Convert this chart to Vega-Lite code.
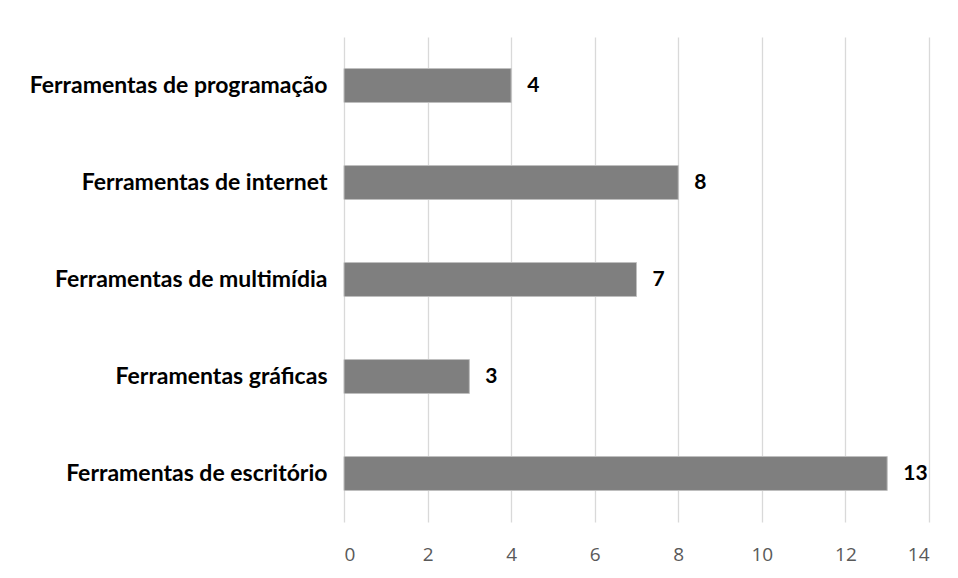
{
  "$schema": "https://vega.github.io/schema/vega-lite/v6.json",
  "width": 585,
  "height": 485,
  "autosize": {"type": "none"},
  "padding": {"left": 344, "top": 37, "right": 29, "bottom": 56},
  "background": "#ffffff",
  "config": {"view": {"stroke": null}},
  "data": {"values": [
    {"categoria": "Ferramentas de programação", "valor": 4},
    {"categoria": "Ferramentas de internet", "valor": 8},
    {"categoria": "Ferramentas de multimídia", "valor": 7},
    {"categoria": "Ferramentas gráficas", "valor": 3},
    {"categoria": "Ferramentas de escritório", "valor": 13}
  ]},
  "encoding": {
    "y": {
      "field": "categoria", "type": "nominal", "sort": null,
      "scale": {"paddingInner": 0.65, "paddingOuter": 0.325},
      "axis": {"title": null, "domain": false, "ticks": false, "grid": false,
        "labelFont": "Lato", "labelFontWeight": "bold", "labelFontSize": 23,
        "labelColor": "#000000", "labelPadding": 17, "labelLimit": 400}
    },
    "x": {
      "field": "valor", "type": "quantitative",
      "scale": {"domain": [0, 14], "nice": false},
      "axis": {"title": null, "values": [0, 2, 4, 6, 8, 10, 12, 14], "domain": false, "ticks": false,
        "grid": true, "gridColor": "#d9d9d9", "gridWidth": 1.3,
        "labelFont": "Open Sans", "labelFontSize": 19, "labelColor": "#595959", "labelPadding": 23}
    }
  },
  "layer": [
    {"mark": {"type": "bar", "color": "#7f7f7f", "stroke": "#bfbfbf", "strokeWidth": 1}},
    {"mark": {"type": "text", "align": "left", "dx": 16, "font": "Lato", "fontWeight": "bold", "fontSize": 21, "color": "#000000"},
     "encoding": {"text": {"field": "valor", "type": "quantitative"}}}
  ]
}
